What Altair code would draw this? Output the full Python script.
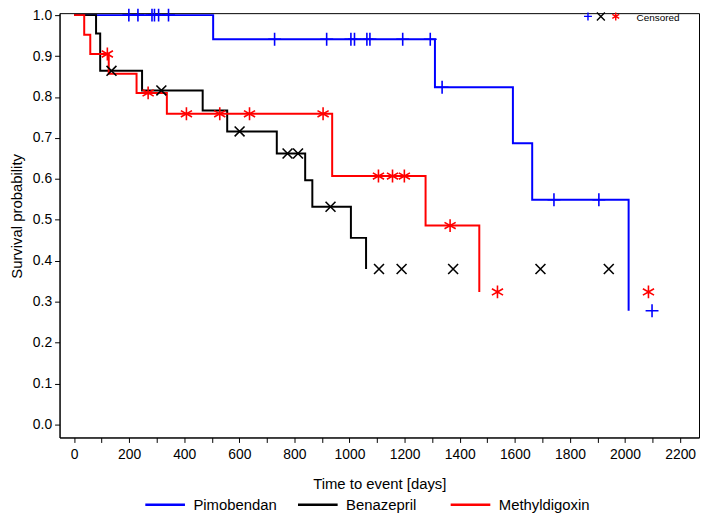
import altair as alt
import pandas as pd

groups = ["Pimobendan", "Benazepril", "Methyldigoxin"]
colors = ["#0000ff", "#000000", "#ff0000"]

# Kaplan-Meier steps (event times and survival after the event)
pimo_days = [0, 505, 1310, 1593, 1663, 2013]
pimo_surv = [1.0, 0.941, 0.824, 0.687, 0.549, 0.278]
pimo_cens_days = [199, 232, 283, 292, 307, 343, 728, 917, 1005, 1018, 1063, 1074,
                  1193, 1293, 1336, 1742, 1905, 2098]
pimo_cens_surv = [1.0, 1.0, 1.0, 1.0, 1.0, 1.0, 0.941, 0.941, 0.941, 0.941, 0.941, 0.941,
                  0.941, 0.941, 0.824, 0.549, 0.549, 0.278]

bena_days = [0, 80, 95, 247, 467, 556, 736, 839, 865, 1005, 1060]
bena_surv = [1.0, 0.955, 0.864, 0.816, 0.767, 0.716, 0.662, 0.597, 0.532, 0.456, 0.380]
bena_cens_days = [136, 317, 601, 775, 813, 931, 1107, 1189, 1376, 1693, 1941]
bena_cens_surv = [0.864, 0.816, 0.716, 0.662, 0.662, 0.532, 0.380, 0.380, 0.380, 0.380, 0.380]

meth_days = [0, 37, 59, 126, 227, 337, 937, 1276, 1471]
meth_surv = [1.0, 0.952, 0.905, 0.857, 0.810, 0.759, 0.607, 0.486, 0.324]
meth_cens_days = [121, 269, 408, 529, 637, 904, 1105, 1156, 1199, 1365, 1537, 2085]
meth_cens_surv = [0.905, 0.810, 0.759, 0.759, 0.759, 0.759, 0.607, 0.607, 0.607, 0.486,
                  0.324, 0.324]

x_ticks = list(range(0, 2201, 100))
y_ticks = [0.0, 0.1, 0.2, 0.3, 0.4, 0.5, 0.6, 0.7, 0.8, 0.9, 1.0]

PLUS = "M0,-1V1M-1,0H1"
CROSS = "M-1,-1L1,1M-1,1L1,-1"
STAR = "M0,-1V1M-0.866,-0.5L0.866,0.5M-0.866,0.5L0.866,-0.5"
shapes = [PLUS, CROSS, STAR]
sizes = [169, 100, 169]

FONT = "Liberation Sans"

steps = pd.concat([
    pd.DataFrame({"group": groups[0], "day": pimo_days, "surv": pimo_surv}),
    pd.DataFrame({"group": groups[1], "day": bena_days, "surv": bena_surv}),
    pd.DataFrame({"group": groups[2], "day": meth_days, "surv": meth_surv}),
], ignore_index=True)

cens = pd.concat([
    pd.DataFrame({"cgroup": groups[0], "day": pimo_cens_days, "surv": pimo_cens_surv}),
    pd.DataFrame({"cgroup": groups[1], "day": bena_cens_days, "surv": bena_cens_surv}),
    pd.DataFrame({"cgroup": groups[2], "day": meth_cens_days, "surv": meth_cens_surv}),
], ignore_index=True)

x_scale = alt.Scale(domain=[-52.5, 2268.5], nice=False, zero=False)
y_scale = alt.Scale(domain=[-0.0315, 1.0048], nice=False, zero=False)

x_axis = alt.Axis(values=x_ticks, format="d",
                  labelExpr="datum.value % 200 == 0 ? datum.label : ''",
                  title="Time to event [days]", grid=False, tickSize=5,
                  labelOverlap=False, labelFlush=False, labelPadding=5,
                  titleY=46, titleBaseline="middle")
y_axis = alt.Axis(values=y_ticks, format=".1f", title="Survival probability",
                  grid=False, tickSize=5, labelOverlap=False, labelFlush=False,
                  labelPadding=3, titleX=-38, titleY=204.5, titleBaseline="alphabetic")

color_enc = alt.Color("group:N", scale=alt.Scale(domain=groups, range=colors),
                      legend=alt.Legend(title=None, orient="none", direction="horizontal",
                                        legendX=85, legendY=474, symbolType="stroke",
                                        symbolSize=1600, symbolStrokeWidth=2.5,
                                        labelFontSize=15, labelFont=FONT, labelOffset=7,
                                        gridAlign="all", columnPadding=8, padding=0))

base = alt.Chart(steps)
layers = []
for g in groups:
    layers.append(
        base.transform_filter(alt.datum.group == g)
        .mark_line(interpolate="step-after", strokeWidth=2, clip=False)
        .encode(x=alt.X("day:Q", scale=x_scale, axis=x_axis),
                y=alt.Y("surv:Q", scale=y_scale, axis=y_axis),
                color=color_enc)
    )

marker_layers = []
for i, g in enumerate(groups):
    marker_layers.append(
        alt.Chart(cens).transform_filter(alt.datum.cgroup == g)
        .mark_point(filled=False, strokeWidth=1.6, opacity=1, clip=False,
                    shape=shapes[i], size=sizes[i], color=colors[i])
        .encode(x=alt.X("day:Q", scale=x_scale, axis=x_axis),
                y=alt.Y("surv:Q", scale=y_scale, axis=y_axis))
    )

one = alt.Data(values=[{}])
leg_x = [533, 546, 561]
cens_legend = []
for i in range(3):
    cens_legend.append(
        alt.Chart(one).mark_point(filled=False, strokeWidth=1.4, opacity=1,
                                  shape=shapes[i], size=64, color=colors[i])
        .encode(x=alt.value(leg_x[i]), y=alt.value(3.3))
    )
cens_text = alt.Chart(one).mark_text(text="Censored", align="left", baseline="middle",
                                     fontSize=10, font=FONT, color="#000").encode(
    x=alt.value(582), y=alt.value(5))

chart = alt.layer(*layers, *marker_layers, *cens_legend, cens_text).properties(
    width=645, height=428,
    autosize=alt.AutoSizeParams(type="none"),
    padding={"left": 52, "top": 3, "right": 2, "bottom": 77},
).configure_view(stroke="#000000", strokeWidth=1).configure_axis(
    domainColor="#000000", tickColor="#000000", labelColor="#000000",
    titleColor="#000000", labelFont=FONT, titleFont=FONT, labelFontSize=14,
    titleFontSize=15, titleFontWeight="normal", domainWidth=1, tickWidth=1
)

chart.save("out.html", embed_options={"renderer": "svg", "actions": False})
